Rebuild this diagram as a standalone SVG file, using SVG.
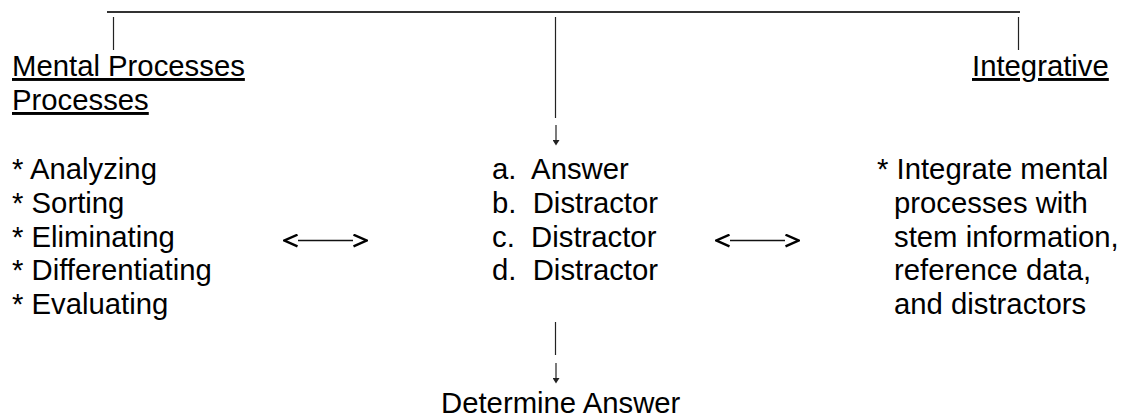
<svg xmlns="http://www.w3.org/2000/svg" width="1121" height="419" viewBox="0 0 1121 419">
<style>
text { font-family: "Liberation Sans", Arial, sans-serif; font-size: 29.3px; fill: #000; }
.u { text-decoration: underline; }
.ln { stroke: #222; stroke-width: 1.2; fill: none; }
.top { stroke: #333; stroke-width: 2; fill: none; }
.dbl { stroke: #111; stroke-width: 1.3; fill: none; }
</style>
<defs>
<marker id="chev" viewBox="0 0 16 14" refX="1" refY="7" markerWidth="16" markerHeight="14" markerUnits="userSpaceOnUse" orient="auto-start-reverse">
<path d="M1.5,1.2 L14.5,7 L1.5,12.8" fill="none" stroke="#000" stroke-width="2.4" stroke-linejoin="miter"/>
</marker>
<marker id="down" viewBox="0 0 6 7" refX="0" refY="3.5" markerWidth="6" markerHeight="7" markerUnits="userSpaceOnUse" orient="auto">
<path d="M0,0 L5.5,3.5 L0,7 z" fill="#222"/>
</marker>
</defs>
<g id="connectors">
<line class="top" x1="107" y1="12" x2="1020" y2="12"/>
<line class="ln" x1="113.5" y1="17" x2="113.5" y2="50"/>
<line class="ln" x1="555.5" y1="17" x2="555.5" y2="118"/>
<line class="ln" x1="1018.5" y1="17" x2="1018.5" y2="50"/>
<line class="ln" x1="556" y1="125" x2="556" y2="140" marker-end="url(#down)"/>
<line class="ln" x1="555.5" y1="322" x2="555.5" y2="355"/>
<line class="ln" x1="556" y1="363" x2="556" y2="378" marker-end="url(#down)"/>
<line class="dbl" x1="298" y1="240.5" x2="353" y2="240.5" marker-start="url(#chev)" marker-end="url(#chev)"/>
<line class="dbl" x1="730" y1="240.5" x2="785" y2="240.5" marker-start="url(#chev)" marker-end="url(#chev)"/>
</g>
<g id="mental-processes">
<text class="u" x="12" y="76">Mental Processes</text>
<text class="u" x="12" y="110">Processes</text>
<text x="12" y="179" xml:space="preserve">* Analyzing</text>
<text x="12" y="213" xml:space="preserve">* Sorting</text>
<text x="12" y="247" xml:space="preserve">* Eliminating</text>
<text x="12" y="280" xml:space="preserve">* Differentiating</text>
<text x="12" y="314" xml:space="preserve">* Evaluating</text>
</g>
<g id="options">
<text x="492" y="179" xml:space="preserve">a.  Answer</text>
<text x="492" y="213" xml:space="preserve">b.  Distractor</text>
<text x="492" y="247" xml:space="preserve">c.  Distractor</text>
<text x="492" y="280" xml:space="preserve">d.  Distractor</text>
</g>
<g id="integrative">
<text class="u" x="972" y="76">Integrative</text>
<text x="877" y="179" xml:space="preserve">* Integrate mental</text>
<text x="894" y="213">processes with</text>
<text x="894" y="247">stem information,</text>
<text x="894" y="280">reference data,</text>
<text x="894" y="314">and distractors</text>
</g>
<g id="determine-answer">
<text x="441" y="413">Determine Answer</text>
</g>
</svg>
